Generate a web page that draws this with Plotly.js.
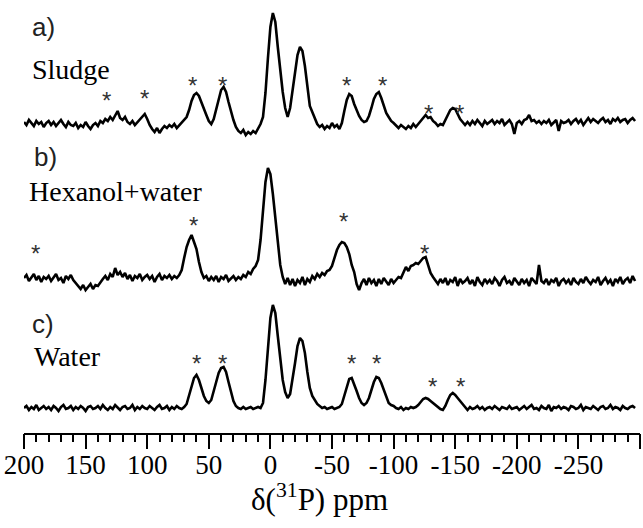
<!DOCTYPE html>
<html>
<head>
<meta charset="utf-8">
<script src="https://cdn.plot.ly/plotly-3.0.1.min.js"></script>
</head>
<body style="margin:0;padding:0;">
<div id="chart"></div>
<script>
// Chemical shift grid: starts at 200 ppm, step -2 ppm (249 points, to -296 ppm)
const ppmStart = 200;
const ppmStep = -2;

// Intensities (arbitrary units), chunks of 20 ppm
const sludge = [
  1,-2,3,0,-3,2,-1,1,-4,0,
  2,-2,1,-3,0,3,-1,-4,1,-2,
  -3,0,-5,-2,-4,1,-3,-6,-2,0,
  -3,2,0,4,2,6,3,7,12,5,
  3,6,1,-1,2,-2,1,3,6,9,
  4,-2,-6,-9,-5,-10,-6,-3,-5,-2,
  -4,-1,-5,-2,0,3,6,13,22,28,
  30,27,20,13,8,2,-1,4,13,24,
  33,36,31,21,11,3,-4,-8,-10,-7,
  -12,-9,-11,-8,-10,-6,-1,6,30,65,
  96,110,101,76,52,31,15,6,15,32,
  52,68,76,72,57,35,17,11,5,-1,
  -4,-2,-6,-3,-5,0,-4,-2,-6,0,
  12,23,29,27,19,13,7,3,1,2,
  7,15,24,29,31,25,17,10,6,2,
  0,-3,-5,-2,-4,-6,-3,-5,-1,-4,
  -1,2,6,8,5,6,2,0,-3,-1,
  -2,3,8,13,15,14,9,4,1,-2,
  1,-2,2,-1,3,0,-3,2,-1,1,
  3,-1,2,0,4,-2,1,3,-1,-11,
  0,2,-1,3,4,8,2,3,0,2,
  -1,2,0,3,-2,1,3,-8,2,0,
  1,3,-1,2,4,0,3,-2,2,5,
  1,4,2,0,3,5,1,3,-1,4,
  2,5,1,3,4,0,3,5,2
];
const hexanolWater = [
  2,5,-1,3,6,0,4,-2,3,1,
  4,-1,3,6,0,2,-3,4,1,5,
  0,-3,-6,-9,-5,-10,-7,-4,-9,-5,
  -6,-2,1,4,0,6,3,12,5,8,
  3,7,1,5,-1,4,2,6,0,3,
  5,1,4,-2,3,6,0,4,2,5,
  1,4,2,5,10,22,33,40,45,38,
  31,18,8,2,4,-1,3,0,4,-2,
  3,1,5,-1,2,4,0,3,1,5,
  3,8,6,11,14,20,40,70,98,112,
  106,86,62,38,15,3,-4,2,-5,1,
  -6,0,-3,3,-5,1,-2,4,1,6,
  3,7,5,9,10,14,22,30,35,38,
  37,33,26,15,8,-4,-10,-3,1,-5,
  2,-3,0,-6,1,-4,2,-2,-5,1,
  -3,0,3,2,8,13,9,14,15,17,
  16,19,22,23,14,7,3,0,-4,1,
  -3,2,-5,0,-2,3,-6,1,-3,-1,
  2,-4,0,-6,3,-2,-5,1,-3,0,
  -4,2,-1,-6,0,3,-3,-1,-5,2,
  -2,-5,1,-3,0,-6,2,-1,-4,15,
  -1,-3,1,-5,0,-2,2,-6,-1,1,
  -3,0,-5,2,-2,-4,1,-3,3,-1,
  -4,0,-2,3,-5,-1,2,-3,0,-6,
  1,-2,3,-4,0,2,-3,4,-1
];
const water = [
  0,2,-2,1,-1,3,-2,0,2,-1,
  1,-2,2,0,-3,1,3,-1,0,2,
  -2,1,-1,2,0,-3,1,2,-1,0,
  2,-1,3,0,-2,1,-1,3,0,-2,
  1,2,-1,0,3,-2,1,-1,2,0,
  -1,2,0,-2,1,3,-1,0,2,-2,
  1,-1,2,0,-1,1,4,12,22,30,
  33,28,20,12,7,5,8,16,26,35,
  40,41,36,26,15,7,2,0,-1,1,
  -1,0,1,-1,0,1,0,5,28,60,
  90,103,95,72,48,28,16,10,14,28,
  45,62,70,67,55,36,20,12,8,4,
  2,0,1,-1,0,1,-1,0,1,4,
  12,22,29,30,24,17,10,5,3,5,
  10,18,26,31,30,25,18,10,5,3,
  2,0,-1,1,-2,0,-1,1,0,1,
  3,6,9,10,9,7,5,3,1,-1,
  -2,2,8,13,15,13,10,7,3,0,
  -2,1,-1,0,2,-1,1,-2,0,1,
  -1,2,0,-2,1,0,-1,2,-1,0,
  1,-2,0,2,-1,1,3,-1,0,-2,
  2,0,-1,3,-3,1,0,2,-1,1,
  0,-2,2,1,-1,0,3,-2,1,0,
  -1,2,0,-2,1,2,-1,0,3,-1,
  1,0,-2,2,0,-1,1,2,0
];

const panelLetters = ["a)", "b)", "c)"];
const panelNames = ["Sludge", "Hexanol+water", "Water"];

// spinning-sideband markers (ppm, height)
const starPpmA = [133.4, 101.8, 63.6, 38.5, -61.4, -90.6, -128.7, -153.1];
const starYA   = [336, 338, 351, 351, 351, 351, 323, 323];
const starPpmB = [190.3, 62.8, -59.7, -124.7];
const starYB   = [183, 211, 215, 183];
const starPpmC = [59.6, 38.5, -66.2, -86.5, -131.2, -153.9];
const starYC   = [73, 73, 73, 73, 50, 50];

const tickVals = [200,150,100,50,0,-50,-100,-150,-200,-250,-300];
const tickText = ["200","150","100","50","0","-50","-100","-150","-200","-250",""];

// vertical stacking of the three spectra
const stackOffset = {a: 310, b: 153, c: 25};

function shifted(arr, off){ return arr.map(v => v + off); }

const lineStyle = {color: "#000", width: 2.6};
const traces = [
  {y: shifted(sludge, stackOffset.a), x0: ppmStart, dx: ppmStep, type: "scatter", mode: "lines", line: lineStyle, hoverinfo: "skip"},
  {y: shifted(hexanolWater, stackOffset.b), x0: ppmStart, dx: ppmStep, type: "scatter", mode: "lines", line: lineStyle, hoverinfo: "skip"},
  {y: shifted(water, stackOffset.c), x0: ppmStart, dx: ppmStep, type: "scatter", mode: "lines", line: lineStyle, hoverinfo: "skip", xaxis: "x2"}
];

const annotations = [];
[[starPpmA, starYA], [starPpmB, starYB], [starPpmC, starYC]].forEach(([xs, ys]) => {
  xs.forEach((x, i) => annotations.push({x: x, y: ys[i], xref: "x", yref: "y", text: "*", showarrow: false,
    font: {family: "Arial", size: 24, color: "#333"}, xanchor: "center", yanchor: "middle", yshift: -3}));
});

const letterPos = [[195.1, 406], [193.5, 276], [195.1, 109]];
const namePos = [[195.1, 364], [197.6, 242], [193.5, 77]];
panelLetters.forEach((t, i) => annotations.push({x: letterPos[i][0], y: letterPos[i][1], xref: "x", yref: "y", text: t,
  showarrow: false, font: {family: "Arial", size: 26, color: "#222"}, xanchor: "left", yanchor: "middle"}));
panelNames.forEach((t, i) => annotations.push({x: namePos[i][0], y: namePos[i][1], xref: "x", yref: "y", text: t,
  showarrow: false, font: {family: "Times New Roman", size: 28, color: "#000"}, xanchor: "left", yanchor: "middle"}));

annotations.push({x: 0.479, y: -0.148, xref: "paper", yref: "paper", text: "δ(<sup>31</sup>P) ppm", showarrow: false,
  font: {family: "Times New Roman", size: 31, color: "#000"}, xanchor: "center", yanchor: "middle"});

const layout = {
  width: 643, height: 528,
  margin: {l: 24, r: 3, t: 0, b: 95},
  paper_bgcolor: "#fff", plot_bgcolor: "#fff",
  showlegend: false,
  font: {family: "Times New Roman", color: "#000"},
  // labelled axis with the short (minor-length) ticks
  xaxis: {
    range: [200, -300], autorange: false,
    tickmode: "array", tickvals: tickVals, ticktext: tickText,
    ticks: "outside", ticklen: 7, tickwidth: 1.5, tickcolor: "#000",
    minor: {dtick: 10, tick0: 0, ticks: "outside", ticklen: 7, tickwidth: 1.5, tickcolor: "#000", showgrid: false},
    showline: true, linecolor: "#000", linewidth: 1.8,
    showgrid: false, zeroline: false,
    tickfont: {family: "Times New Roman", size: 27, color: "#000"}
  },
  // overlay axis carrying the long major ticks
  xaxis2: {
    matches: "x", overlaying: "x", anchor: "y", side: "bottom",
    range: [200, -300], autorange: false,
    tickmode: "array", tickvals: tickVals,
    ticks: "outside", ticklen: 15, tickwidth: 1.5, tickcolor: "#000",
    showticklabels: false, showline: false, showgrid: false, zeroline: false
  },
  yaxis: {range: [0, 433], autorange: false, visible: false, showgrid: false, zeroline: false},
  annotations: annotations
};

Plotly.newPlot("chart", traces, layout, {displayModeBar: false});
</script>
</body>
</html>
